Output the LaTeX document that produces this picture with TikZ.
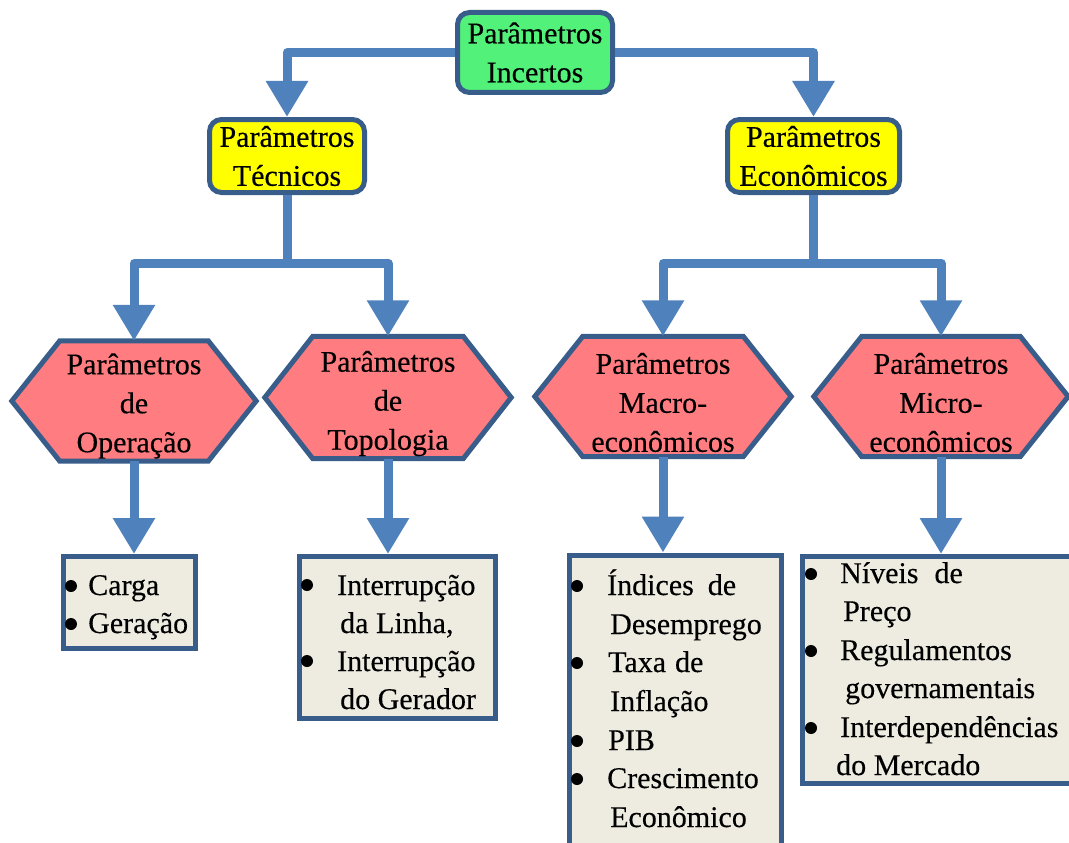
\documentclass[tikz,border=0pt]{standalone}
\usepackage{fontspec}
\setmainfont{Liberation Serif}[FakeBold=0.35]
\usetikzlibrary{arrows.meta,backgrounds}
\definecolor{conncol}{RGB}{79,129,189}
\definecolor{bordcol}{RGB}{56,93,138}
\definecolor{greenfill}{RGB}{82,242,122}
\definecolor{yelfill}{RGB}{255,255,0}
\definecolor{pinkfill}{RGB}{255,124,128}
\definecolor{beigefill}{RGB}{238,236,225}
\begin{document}
\begin{tikzpicture}[x=1pt,y=-1pt,
  every node/.style={font=\fontsize{30}{39}\selectfont},
  rbox/.style={draw=bordcol,line width=5pt,rounded corners=12pt,align=center,inner sep=0pt},
  hexnode/.style={inner sep=0pt},
  hextext/.style={inner sep=0pt,align=center},
  hexshape/.style={draw=bordcol,line width=5pt,fill=pinkfill,line join=miter},
  listbox/.style={draw=bordcol,line width=5pt,fill=beigefill,inner sep=0pt},
  item/.style={anchor=base west,inner sep=0pt},
  bul/.style={fill=black},
  conn/.style={draw=conncol,line width=9pt,line join=round,-{Triangle[width=40pt,length=36pt]}},
  trunk/.style={draw=conncol,line width=9pt,line join=round}]
\useasboundingbox (0,0) rectangle (1069,843);

% top level boxes
\node[rbox,fill=greenfill,minimum width=155pt,minimum height=80pt] (top) at (535,52.5) {Parâmetros\\Incertos};
\node[rbox,fill=yelfill,minimum width=155pt,minimum height=73pt] (tec) at (287,156) {Parâmetros\\Técnicos};
\node[rbox,fill=yelfill,minimum width=172pt,minimum height=73pt] (eco) at (813.5,156) {Parâmetros\\Econômicos};

% hexagon nodes
\node[hexnode,minimum width=148pt,minimum height=120pt] (op) at (134,401) {};
\node[hexnode,minimum width=150pt,minimum height=122pt] (topo) at (388,397.5) {};
\node[hexnode,minimum width=160pt,minimum height=120pt] (mac) at (663,396.5) {};
\node[hexnode,minimum width=158pt,minimum height=120pt] (mic) at (941,396.5) {};

\begin{scope}[on background layer]
\foreach \h in {op,topo,mac,mic}{
  \path[hexshape] (\h.north west) -- (\h.north east) -- ([xshift=48pt]\h.east)
    -- (\h.south east) -- (\h.south west) -- ([xshift=-48pt]\h.west) -- cycle;
}
\end{scope}

\node[hextext] (opx) at ([yshift=-5pt]op.center) {Parâmetros\\de\\Operação};
\node[hextext] (topox) at ([yshift=-6pt]topo.center) {Parâmetros\\de\\Topologia};
\node[hextext] (macx) at ([yshift=-6pt]mac.center) {Parâmetros\\Macro-\\econômicos};
\node[hextext] (micx) at ([yshift=-6pt]mic.center) {Parâmetros\\Micro-\\econômicos};

% list boxes
\node[listbox,minimum width=132pt,minimum height=92pt] (opb) at (129.5,602.5) {};
\node[listbox,minimum width=196pt,minimum height=162pt] (topb) at (397.5,637.5) {};
\node[listbox,minimum width=212pt,minimum height=300pt] (macb) at (675.5,705) {};
\node[listbox,minimum width=275pt,minimum height=227pt] (micb) at (940,670) {};

% list items
\node[item] (o1) at (88,595) {Carga};
\node[item] (o2) at (88,633) {Geração};
\fill[bul] (71,586) circle (6pt);
\fill[bul] (71,624) circle (6pt);

\node[item] (t1) at (337,595) {Interrupção};
\node[item] (t2) at (340,633) {da Linha,};
\node[item] (t3) at (337,671) {Interrupção};
\node[item] (t4) at (340,709) {do Gerador};
\fill[bul] (307,585) circle (6pt);
\fill[bul] (307,661) circle (6pt);

\node[item] (m1) at (607,595) {Índices\hspace{14pt}de};
\node[item] (m2) at (610,634) {Desemprego};
\node[item] (m3) at (608,672) {Taxa\hspace{9pt}de};
\node[item] (m4) at (610,711) {Inflação};
\node[item] (m5) at (608,750) {PIB};
\node[item] (m6) at (607,788) {Crescimento};
\node[item] (m7) at (610,827) {Econômico};
\fill[bul] (577,586) circle (6pt);
\fill[bul] (577,663) circle (6pt);
\fill[bul] (577,741) circle (6pt);
\fill[bul] (577,779) circle (6pt);

\node[item] (c1) at (840,583) {Níveis\hspace{16pt}de};
\node[item] (c2) at (843,621) {Preço};
\node[item] (c3) at (840,660) {Regulamentos};
\node[item] (c4) at (845,698) {governamentais};
\node[item] (c5) at (840,737) {Interdependências};
\node[item] (c6) at (836,775) {do Mercado};
\fill[bul] (811,574) circle (6pt);
\fill[bul] (811,651) circle (6pt);
\fill[bul] (811,728) circle (6pt);

% connectors
\draw[conn] (top.west) -| (tec.north);
\draw[conn] (top.east) -| (eco.north);
\coordinate (tecj) at (tec.south |- 0,263);
\coordinate (ecoj) at (eco.south |- 0,263);
\draw[trunk] (tec.south) -- (tecj);
\draw[trunk] (eco.south) -- (ecoj);
\draw[conn] (tecj) -| (op.north);
\draw[conn] (tecj) -| (topo.north);
\draw[conn] (ecoj) -| (mac.north);
\draw[conn] (ecoj) -| (mic.north);
\draw[conn] (op.south) -- (op.south |- opb.north);
\draw[conn] (topo.south) -- (topo.south |- topb.north);
\draw[conn] (mac.south) -- (mac.south |- macb.north);
\draw[conn] (mic.south) -- (mic.south |- micb.north);
\end{tikzpicture}
\end{document}
